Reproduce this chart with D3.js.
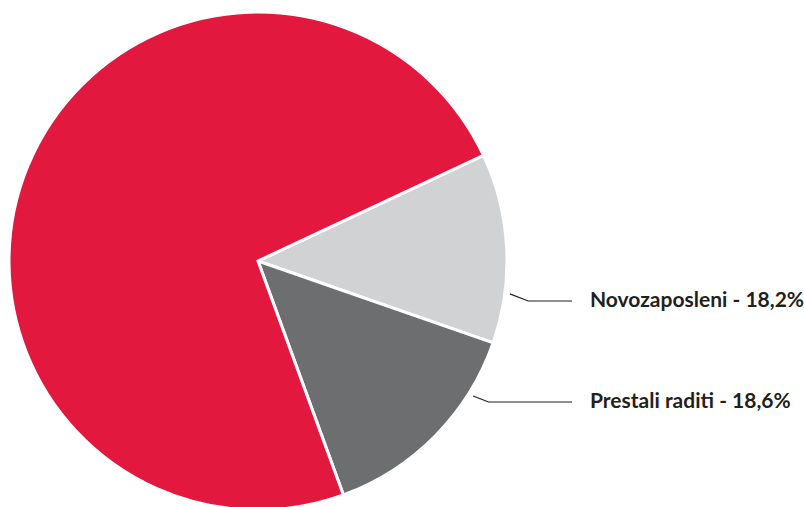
<!DOCTYPE html>
<html>
<head>
<meta charset="utf-8">
<script src="https://cdn.jsdelivr.net/npm/d3@7"></script>
<style>
  html, body { margin: 0; padding: 0; background: #fff; }
  svg { display: block; }
</style>
</head>
<body>
<svg id="chart"></svg>
<script>
// slice shares (clockwise, starting at the light grey one)
var categories = ["Novozaposleni", "Prestali raditi", "Ostali"];
var sliceValues = [12.3, 14.1, 73.6];
var labelTexts = ["Novozaposleni - 18,2%", "Prestali raditi - 18,6%", null];
var colors = ["#d1d2d4", "#6d6e70", "#e3183f"];

const width = 804;
const height = 507;
const cx = 258, cy = 261, radius = 249;

var svg = d3.select("#chart")
    .attr("width", width)
    .attr("height", height)
    .attr("viewBox", [0, 0, width, height]);

var pie = d3.pie()
    .sort(null)
    .value(function(d) { return d; })
    .startAngle(64.9 * Math.PI / 180)
    .endAngle(64.9 * Math.PI / 180 + 2 * Math.PI);

var arc = d3.arc().innerRadius(0).outerRadius(radius);

var g = svg.append("g").attr("transform", "translate(" + cx + "," + cy + ")");

var arcs = pie(sliceValues);

g.selectAll("path.slice")
    .data(arcs)
    .join("path")
    .attr("class", "slice")
    .attr("d", arc)
    .attr("fill", function(d, i) { return colors[i]; })
    .attr("stroke", "#fff")
    .attr("stroke-width", 3)
    .attr("stroke-linejoin", "miter");

// leader lines + labels
var textX = 590;
var lineEndX = 572;
var labelY = [301, 402];
// where the leader touches the rim, as a fraction through the slice
var anchorFrac = [0.735, 0.255];

arcs.forEach(function(d, i) {
    if (!labelTexts[i]) return;
    var ang = d.startAngle + (d.endAngle - d.startAngle) * anchorFrac[i];
    var r0 = radius + 5;
    var a = ang - Math.PI / 2;
    var p0 = [cx + r0 * Math.cos(a), cy + r0 * Math.sin(a)];
    var ly = labelY[i];
    var bendX = p0[0] + (ly - p0[1]) * 2.6;
    svg.append("polyline")
        .attr("points", [p0, [bendX, ly], [lineEndX, ly]].map(function(p) { return p.join(","); }).join(" "))
        .attr("fill", "none")
        .attr("stroke", "#231f20")
        .attr("stroke-width", 1.2);
    svg.append("text")
        .attr("x", textX)
        .attr("y", ly + 6)
        .attr("font-family", "Lato, 'Open Sans', sans-serif")
        .attr("font-weight", "bold")
        .attr("font-size", 21)
        .attr("fill", "#231f20")
        .text(labelTexts[i]);
});
</script>
</body>
</html>
